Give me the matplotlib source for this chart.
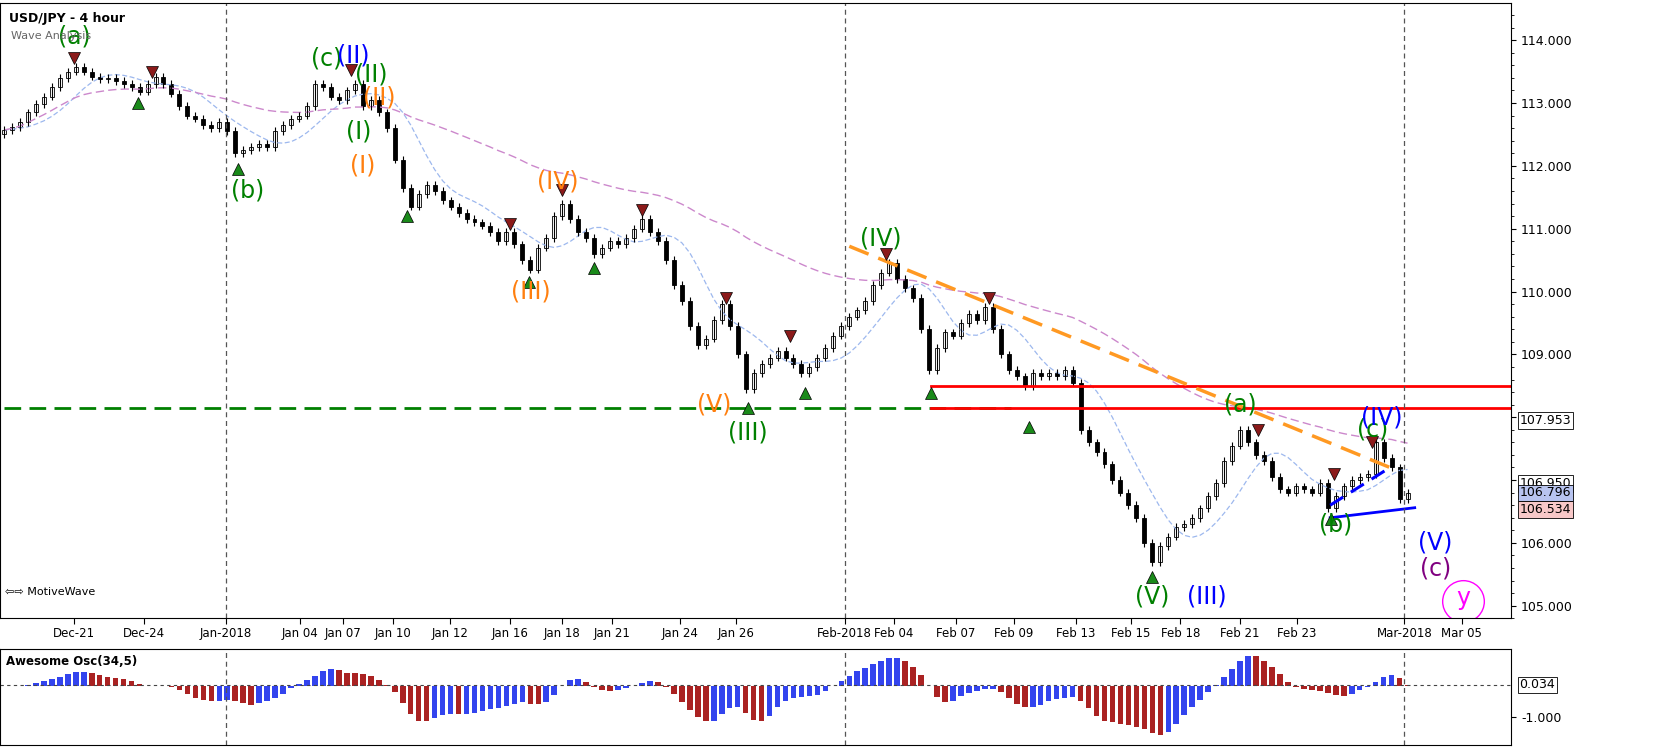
import numpy as np
import pandas as pd
import matplotlib
matplotlib.use("Agg")
import matplotlib.pyplot as plt

# === data: 4h closes (one value per plotted bar) ===
closes = [
    112.57, 112.62, 112.70, 112.85, 112.98, 113.10, 113.25, 113.40, 113.50, 113.58,
    113.50, 113.42, 113.38, 113.40, 113.35, 113.30, 113.25, 113.18, 113.30, 113.42,
    113.30, 113.15, 112.95, 112.80, 112.75, 112.65, 112.60, 112.70, 112.55, 112.20,
    112.25, 112.30, 112.35, 112.30, 112.55, 112.65, 112.75, 112.80, 112.95, 113.30,
    113.25, 113.10, 113.05, 113.20, 113.30, 112.95, 113.05, 112.85, 112.60, 112.10,
    111.65, 111.35, 111.55, 111.70, 111.60, 111.45, 111.35, 111.25, 111.15, 111.10,
    111.05, 110.95, 110.80, 110.95, 110.75, 110.50, 110.35, 110.70, 110.85, 111.20,
    111.40, 111.15, 110.95, 110.85, 110.60, 110.70, 110.80, 110.75, 110.85, 111.00,
    111.15, 110.95, 110.80, 110.50, 110.10, 109.85, 109.45, 109.15, 109.25, 109.55,
    109.80, 109.45, 109.00, 108.45, 108.70, 108.85, 108.95, 109.05, 108.95, 108.85,
    108.70, 108.80, 108.95, 109.10, 109.30, 109.45, 109.60, 109.70, 109.85, 110.10,
    110.30, 110.45, 110.20, 110.05, 109.90, 109.40, 108.75, 109.10, 109.35, 109.30,
    109.50, 109.65, 109.55, 109.75, 109.40, 109.00, 108.75, 108.65, 108.50, 108.70,
    108.65, 108.70, 108.65, 108.75, 108.55, 107.80, 107.60, 107.45, 107.25, 107.00,
    106.80, 106.60, 106.40, 106.00, 105.70, 105.95, 106.10, 106.25, 106.30, 106.40,
    106.55, 106.75, 106.95, 107.30, 107.55, 107.80, 107.60, 107.40, 107.30, 107.05,
    106.85, 106.80, 106.90, 106.85, 106.80, 106.95, 106.55, 106.75, 106.90, 107.00,
    107.05, 107.10, 107.60, 107.35, 107.20, 106.70, 106.80,
]
first_open = 112.50

tick_pos = [8.8, 17.5, 27.8, 37.1, 42.5, 48.8, 55.9, 63.4, 70, 76.3, 84.8, 91.8,
            105.4, 111.6, 119.4, 126.6, 134.4, 141.3, 147.5, 155, 162.1, 175.6, 182.8]
tick_labels = ["Dec-21", "Dec-24", "Jan-2018", "Jan 04", "Jan 07", "Jan 10", "Jan 12",
               "Jan 16", "Jan 18", "Jan 21", "Jan 24", "Jan 26", "Feb-2018", "Feb 04",
               "Feb 07", "Feb 09", "Feb 13", "Feb 15", "Feb 18", "Feb 21", "Feb 23",
               "Mar-2018", "Mar 05"]
month_lines = [27.8, 105.4, 175.6]

# wave labels: (bar, price, text, colour)
waves = [
    (8.8, 114.05, "(a)", "green"), (30.5, 111.6, "(b)", "green"),
    (40.5, 113.7, "(c)", "green"), (43.8, 113.75, "(II)", "blue"),
    (46, 113.45, "(II)", "green"), (47, 113.08, "(II)", "#ff7f0e"),
    (44.5, 112.55, "(I)", "green"), (45, 112.0, "(I)", "#ff7f0e"),
    (69.5, 111.75, "(IV)", "#ff7f0e"), (66, 110.0, "(III)", "#ff7f0e"),
    (89, 108.2, "(V)", "#ff7f0e"), (93.3, 107.75, "(III)", "green"),
    (110, 110.85, "(IV)", "green"), (144, 105.15, "(V)", "green"),
    (150.8, 105.15, "(III)", "blue"), (155, 108.2, "(a)", "green"),
    (167, 106.3, "(b)", "green"), (171.6, 107.8, "(c)", "green"),
    (172.8, 108.0, "(IV)", "blue"), (179.5, 106.0, "(V)", "blue"),
    (179.5, 105.6, "(c)", "purple"), (183, 105.12, "y", "magenta"),
]
tops = [(8.8, 113.72), (18.6, 113.5), (43.5, 113.52), (63.5, 111.07), (70, 111.62),
        (80, 111.3), (90.6, 109.9), (98.6, 109.3), (110.6, 110.6), (123.5, 109.9),
        (157.2, 107.8), (166.8, 107.1), (171.6, 107.6)]
bottoms = [(16.8, 113.0), (29.4, 111.95), (50.5, 111.2), (65.8, 110.15), (74, 110.37),
           (93.3, 108.15), (100.4, 108.38), (116.3, 108.38), (128.5, 107.85),
           (144, 105.45), (166.4, 106.38)]

# trend / level lines: ((bar0, price0), (bar1, price1))
orange_trend = ((106, 110.72), (173.8, 107.2))
blue_dash = ((166.3, 106.6), (173.8, 107.2))
blue_solid = ((166.3, 106.4), (176.9, 106.56))
red_levels = [108.49, 108.14]
red_start = 116.3
green_level = 108.14
green_end = 126.3

price_marks = [(107.953, "white", "black"), (106.950, "white", "black"),
               (106.796, "#b8c4f0", "black"), (106.534, "#f8c8c8", "black")]

# === derived series ===
c = np.array(closes)
o = np.concatenate([[first_open], c[:-1]])
hi = np.maximum(o, c) + 0.06
lo = np.minimum(o, c) - 0.06
idx = np.arange(len(c))
s = pd.Series(c)
ma_fast = s.rolling(6, min_periods=1).mean().rolling(4, min_periods=1).mean()
ma_slow = s.ewm(span=60).mean()
median = pd.Series((hi + lo) / 2)
# each plotted bar covers ~2 real 4h bars, so AO(34,5) becomes 17/3 here
ao = (median.rolling(3, min_periods=1).mean() - median.rolling(17, min_periods=1).mean()).values

# === figure ===
fig = plt.figure(figsize=(16.68, 7.55), dpi=100)
ax = fig.add_axes([0.0, 0.181, 0.906, 0.815])
ax2 = fig.add_axes([0.0, 0.013, 0.906, 0.128])

ax.plot(idx, ma_fast, color="#9db8ee", lw=0.9, ls=(0, (4, 2)))
ax.plot(idx, ma_slow, color="#cc88cc", lw=1.0, ls=(0, (6, 3)))

for i in idx:
    up = c[i] >= o[i]
    ax.vlines(i, lo[i], hi[i], color="black", lw=0.8)
    ax.bar(i, max(abs(c[i] - o[i]), 0.02), bottom=min(o[i], c[i]), width=0.5,
           color="white" if up else "black", edgecolor="black", lw=0.6)

ax.plot([0, green_end], [green_level] * 2, color="green", lw=2, ls=(0, (6, 3)))
for lv in red_levels:
    ax.plot([red_start, 189], [lv, lv], color="red", lw=2)
ax.plot(*zip(*orange_trend), color="#ff9922", lw=2.5, ls=(0, (6, 3)))
ax.plot(*zip(*blue_dash), color="blue", lw=2.2, ls=(0, (5, 3)))
ax.plot(*zip(*blue_solid), color="blue", lw=2)

for b, p in tops:
    ax.plot(b, p, marker="v", color="#8b1a1a", ms=8, mec="black", mew=0.5)
for b, p in bottoms:
    ax.plot(b, p, marker="^", color="#1a8a1a", ms=8, mec="black", mew=0.5)
for b, p, t, col in waves:
    ax.text(b, p, t, color=col, fontsize=17, ha="center", va="center")
ax.plot(183, 105.08, marker="o", ms=30, mfc="none", mec="magenta", mew=1)

for x in month_lines:
    ax.axvline(x, color="#555555", lw=0.9, ls=(0, (4, 3)))
    ax2.axvline(x, color="#555555", lw=0.9, ls=(0, (4, 3)))

ax.set_xlim(-0.5, 189)
ax.set_ylim(104.8, 114.59)
ax.yaxis.tick_right()
ax.set_yticks(np.arange(105, 115, 1.0))
ax.set_yticklabels([f"{v:.3f}" for v in np.arange(105, 115, 1.0)], fontsize=9)
ax.set_yticks(np.arange(104.8, 114.6, 0.2), minor=True)
ax.set_xticks(tick_pos)
ax.set_xticklabels(tick_labels, fontsize=8.5)
ax.tick_params(axis="x", pad=2, length=4)
for b, fc, tc in price_marks:
    ax.annotate(f"{b:.3f}", xy=(1.0, b), xycoords=("axes fraction", "data"),
                xytext=(6, 0), textcoords="offset points", fontsize=9, va="center",
                color=tc, bbox=dict(boxstyle="square,pad=0.15", fc=fc, ec="black", lw=0.6))
ax.text(0.006, 0.985, "USD/JPY - 4 hour", transform=ax.transAxes, fontsize=9,
        fontweight="bold", va="top")
ax.text(0.007, 0.955, "Wave Analysis", transform=ax.transAxes, fontsize=8,
        color="#666666", va="top")
ax.text(0.003, 0.035, "⇦⇨ MotiveWave", transform=ax.transAxes, fontsize=8, va="bottom")

colors = ["#3344ee" if i > 0 and ao[i] >= ao[i - 1] else "#aa2222" for i in idx]
ax2.bar(idx, ao, width=0.7, color=colors)
ax2.axhline(ao[-1], color="#444444", lw=0.8, ls=(0, (3, 3)))
ax2.set_xlim(-0.5, 189)
ax2.set_ylim(-1.9, 1.2)
ax2.yaxis.tick_right()
ax2.set_yticks([-1.0])
ax2.set_yticklabels(["-1.000"], fontsize=9)
ax2.set_xticks([])
ax2.annotate(f"{ao[-1]:.3f}", xy=(1.0, ao[-1]), xycoords=("axes fraction", "data"),
             xytext=(6, 0), textcoords="offset points", fontsize=9, va="center",
             bbox=dict(boxstyle="square,pad=0.15", fc="white", ec="black", lw=0.6))
ax2.text(0.004, 0.93, "Awesome Osc(34,5)", transform=ax2.transAxes, fontsize=8.5,
         fontweight="bold", va="top")

fig.savefig("out.png", dpi=100)
